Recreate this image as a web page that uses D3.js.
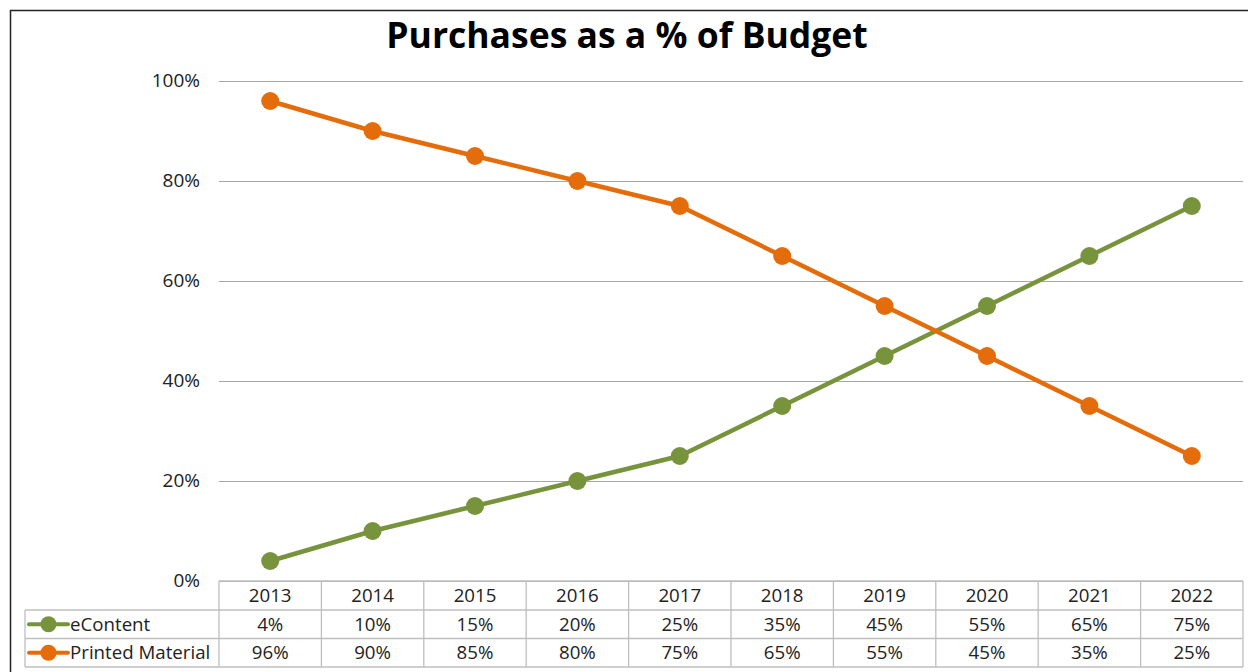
<!DOCTYPE html>
<html><head><meta charset="utf-8">
<script src="https://cdn.jsdelivr.net/npm/d3@7"></script>
<style>html,body{margin:0;padding:0;background:#fff;}</style>
</head><body>
<svg id="c" width="1248" height="672"></svg>
<script>
const years = ["2013","2014","2015","2016","2017","2018","2019","2020","2021","2022"];
const eContent = [4,10,15,20,25,35,45,55,65,75];
const printed = [96,90,85,80,75,65,55,45,35,25];
const yTicks = [0,20,40,60,80,100];
const seriesNames = ["eContent","Printed Material"];
const seriesColors = ["#77933c","#e46c0a"];
const title = "Purchases as a % of Budget";

const svg = d3.select("#c");
const font = "'Open Sans', 'Noto Sans', sans-serif";
const L = 219, R = 1243, T = 81, B = 581;

// frame
svg.append("path").attr("d", `M10.5,672 V10.5 H1248`).attr("fill","none").attr("stroke","#222").attr("stroke-width",1.5);

svg.append("text").attr("x", 627).attr("y", 48).attr("text-anchor","middle")
  .attr("font-family", font).attr("font-weight", 700).attr("font-size", 35.5).attr("fill","#000").text(title);

const x = d3.scaleBand().domain(years).range([L, R]);
const y = d3.scaleLinear().domain([0,100]).range([B, T]);

// grid
const yAxis = d3.axisLeft(y).tickValues(yTicks).tickSize(-(R-L)).tickFormat(d => d + "%").tickPadding(19);
const ga = svg.append("g").attr("transform", `translate(${L},0)`).call(yAxis);
ga.select(".domain").remove();
ga.selectAll(".tick line").attr("stroke","#a6a6a6").attr("stroke-width",1);
ga.selectAll(".tick text").attr("font-family", font).attr("font-size", 19).attr("fill","#222").attr("dy","0.3em");

// table
const rowY = [581, 610, 638.5, 667];
const tableLeft = 25;
const tg = svg.append("g").attr("stroke","#bfbfbf").attr("stroke-width",1.3).attr("fill","none");
tg.append("line").attr("x1", L).attr("x2", R).attr("y1", rowY[0]).attr("y2", rowY[0]);
for (let i = 1; i < 4; i++) tg.append("line").attr("x1", tableLeft).attr("x2", R).attr("y1", rowY[i]).attr("y2", rowY[i]);
tg.append("line").attr("x1", tableLeft).attr("x2", tableLeft).attr("y1", rowY[1]).attr("y2", rowY[3]);
years.forEach(yr => tg.append("line").attr("x1", x(yr)).attr("x2", x(yr)).attr("y1", rowY[0]).attr("y2", rowY[3]));
tg.append("line").attr("x1", R).attr("x2", R).attr("y1", rowY[0]).attr("y2", rowY[3]);

const txt = (xx, yy, s, anchor) => svg.append("text").attr("x", xx).attr("y", yy).attr("text-anchor", anchor || "middle")
  .attr("font-family", font).attr("font-size", 18.7).attr("fill", "#222").text(s);
years.forEach(yr => txt(x(yr) + x.bandwidth()/2, 602, yr));
const allSeries = [eContent, printed];
allSeries.forEach((vals, si) => {
  const ry = (rowY[si+1] + rowY[si+2]) / 2 + 6.5;
  vals.forEach((v, i) => txt(x(years[i]) + x.bandwidth()/2, ry, v + "%"));
  const cy = (rowY[si+1] + rowY[si+2]) / 2;
  svg.append("line").attr("x1", 29).attr("x2", 68).attr("y1", cy).attr("y2", cy).attr("stroke", seriesColors[si]).attr("stroke-width", 4).attr("stroke-linecap","round");
  svg.append("circle").attr("cx", 48.5).attr("cy", cy).attr("r", 8).attr("fill", seriesColors[si]);
  txt(70, ry, seriesNames[si], "start");
});

// lines
const line = d3.line().x((d,i) => x(years[i]) + x.bandwidth()/2).y(d => y(d));
allSeries.forEach((vals, si) => {
  svg.append("path").datum(vals).attr("d", line).attr("fill","none").attr("stroke", seriesColors[si]).attr("stroke-width", 4.5).attr("stroke-linejoin","round");
  svg.selectAll(null).data(vals).enter().append("circle")
    .attr("cx", (d,i) => x(years[i]) + x.bandwidth()/2).attr("cy", d => y(d)).attr("r", 9).attr("fill", seriesColors[si]);
});
</script>
</body></html>
